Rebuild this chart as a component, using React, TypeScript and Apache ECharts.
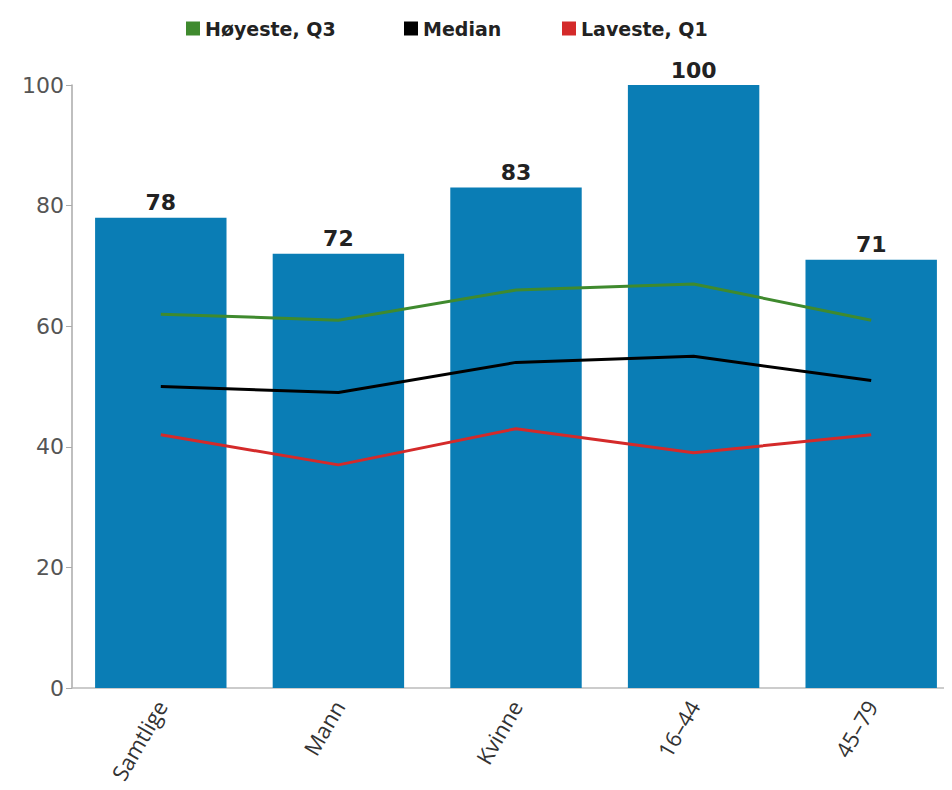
import React, { useEffect, useRef } from "react";
import * as echarts from "echarts";

const categories = ["Samtlige", "Mann", "Kvinne", "16–44", "45–79"];
const barValues = [78, 72, 83, 100, 71];
const q3Values = [62, 61, 66, 67, 61];
const medianValues = [50, 49, 54, 55, 51];
const q1Values = [42, 37, 43, 39, 42];
const seriesNames = ["Høyeste, Q3", "Median", "Laveste, Q1"];

export default function App() {
  const ref = useRef<HTMLDivElement>(null);
  useEffect(() => {
    if (!ref.current) return;
    const chart = echarts.init(ref.current, undefined, { renderer: "svg" });
    const lineSeries = (name: string, data: number[], color: string) => ({
      name,
      type: "line",
      data,
      symbol: "none",
      lineStyle: { color, width: 3 },
      itemStyle: { color },
      z: 5,
    });
    const legendLefts = [173, 391, 549];
    const legends = seriesNames.map((n, i) => ({
      left: legendLefts[i],
      top: 6,
      itemWidth: 14,
      itemHeight: 14,
      itemGap: 8,
      icon: "rect",
      data: [n],
      textStyle: {
        fontFamily: "DejaVu Sans",
        fontWeight: "bold",
        fontSize: 19,
        color: "#222",
      },
    }));
    chart.setOption({
      animation: false,
      backgroundColor: "#ffffff",
      legend: legends,
      grid: { left: 64, top: 77, width: 889, height: 603 },
      xAxis: {
        type: "category",
        data: categories,
        axisLine: { lineStyle: { color: "#bbb", width: 1.5 } },
        axisTick: { show: false },
        axisLabel: {
          rotate: 60,
          fontFamily: "Open Sans",
          fontSize: 22,
          color: "#333",
          margin: 14,
        },
      },
      yAxis: {
        type: "value",
        min: 0,
        max: 100,
        interval: 20,
        splitLine: { show: false },
        axisLine: { show: true, lineStyle: { color: "#aaa", width: 1.5 } },
        axisTick: { show: true, length: 6, lineStyle: { color: "#aaa" } },
        axisLabel: {
          fontFamily: "DejaVu Sans",
          fontSize: 22,
          color: "#555",
          margin: 8,
        },
      },
      series: [
        {
          name: "Bars",
          type: "bar",
          data: barValues,
          barWidth: "74%",
          itemStyle: { color: "#0a7db5" },
          label: {
            show: true,
            position: "top",
            distance: 4,
            fontFamily: "DejaVu Sans",
            fontWeight: "bold",
            fontSize: 22,
            color: "#222",
          },
          z: 2,
        },
        lineSeries(seriesNames[0], q3Values, "#3f8a2e"),
        lineSeries(seriesNames[1], medianValues, "#000000"),
        lineSeries(seriesNames[2], q1Values, "#d42a2a"),
      ],
    });
    return () => chart.dispose();
  }, []);
  return <div ref={ref} style={{ width: 952, height: 790 }} />;
}
